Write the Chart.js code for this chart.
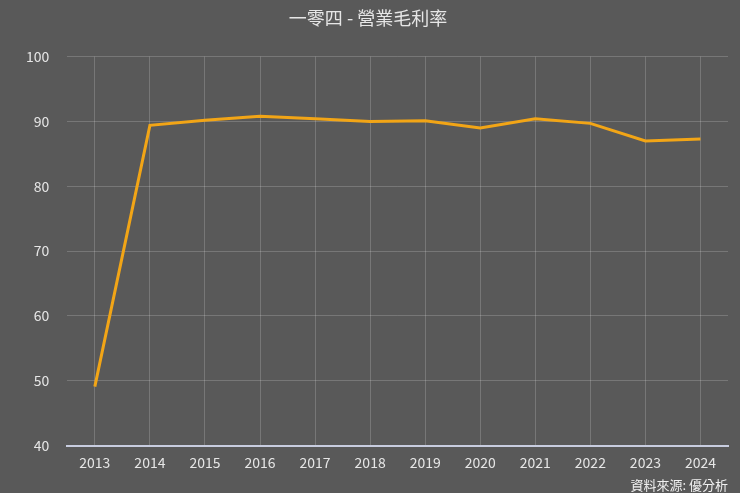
<!DOCTYPE html>
<html>
<head>
<meta charset="utf-8">
<script src="https://cdn.jsdelivr.net/npm/chart.js@4"></script>
<style>
  html, body { margin: 0; padding: 0; background: #595959; }
  #wrap { width: 740px; height: 493px; }
</style>
</head>
<body>
<div id="wrap"><canvas id="chart"></canvas></div>
<script>
// 資料
const years = ['2013', '2014', '2015', '2016', '2017', '2018', '2019', '2020', '2021', '2022', '2023', '2024'];
const grossMargin = [49.1, 89.4, 90.2, 90.8, 90.4, 90.0, 90.1, 89.0, 90.4, 89.7, 87.0, 87.3];
const yTicks = [40, 50, 60, 70, 80, 90, 100];

const fontFamily = '"Noto Sans CJK TC", "Noto Sans", sans-serif';

const ctx = document.getElementById('chart').getContext('2d');
const chart = new Chart(ctx, {
    type: 'line',
    data: {
        labels: years,
        datasets: [{
            label: '營業毛利率',
            data: grossMargin,
            borderColor: '#f2a516',
            borderWidth: 3,
            pointRadius: 0,
            tension: 0,
            fill: false
        }]
    },
    options: {
        responsive: true,
        maintainAspectRatio: false,
        animation: false,
        layout: { padding: { left: 8, right: 12, top: 3, bottom: 0 } },
        plugins: {
            legend: { display: false },
            tooltip: { enabled: false },
            title: {
                display: true,
                text: '一零四 - 營業毛利率',
                color: '#e6e6e6',
                font: { family: fontFamily, size: 18, weight: 'normal' },
                padding: { top: 4, bottom: 28 }
            },
            subtitle: {
                display: true,
                position: 'bottom',
                align: 'end',
                text: '資料來源: 優分析',
                color: '#f0f0f0',
                font: { family: fontFamily, size: 13, weight: 'normal' },
                padding: { top: -3, bottom: 0 }
            }
        },
        scales: {
            x: {
                offset: true,
                grid: { color: 'rgba(255,255,255,0.18)', offset: false, drawTicks: false },
                border: { display: true, color: '#c8cde0', width: 2 },
                ticks: { color: '#e6e6e6', font: { family: fontFamily, size: 14 }, padding: 9, maxRotation: 0 }
            },
            y: {
                min: 40,
                max: 100,
                afterBuildTicks: axis => { axis.ticks = yTicks.map(v => ({ value: v })); },
                grid: { color: 'rgba(255,255,255,0.18)', drawTicks: false },
                border: { display: false },
                ticks: { color: '#e6e6e6', font: { family: fontFamily, size: 14 }, padding: 18 }
            }
        }
    }
});
</script>
</body>
</html>
